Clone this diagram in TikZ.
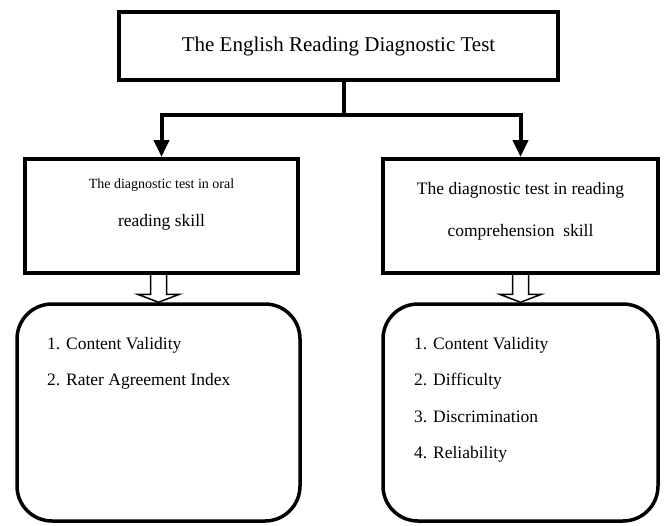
\documentclass[tikz,border=0pt]{standalone}
\usepackage{fontspec}
\setmainfont{Liberation Serif}
\usetikzlibrary{positioning, arrows.meta, calc}

\begin{document}
\begin{tikzpicture}[
  x=1pt, y=-1pt,
  box/.style={draw, line width=4pt, minimum width=#1, minimum height=114pt, inner sep=0pt},
  critbox/.style={draw, line width=3.5pt, rounded corners=35pt, minimum width=#1, minimum height=217pt},
  lbl/.style={font=\fontsize{17.5}{36.5}\selectfont, inner sep=0pt},
  link/.style={line width=4pt},
  hollow/.style={draw, line width=1.5pt, fill=white},
  >={Triangle[length=17pt, width=15pt]}
]
\useasboundingbox (0,0) rectangle (664,525);

% Title box
\node[draw, line width=4pt, minimum width=439pt, minimum height=68pt,
  font=\fontsize{21}{25}\selectfont] (title) at (338.5,46) {The English Reading Diagnostic Test};

% Two test boxes
\node[box=273pt] (lbox) at (161.5,216) {};
\node[font=\fontsize{14}{17}\selectfont, inner sep=0pt] (ltop) at (161.5,185) {The diagnostic test in oral};
\node[lbl] (lbot) at (161.5,222) {reading skill};

\node[box=275pt] (rbox) at (520.5,216) {};
\node[lbl] (rtop) at (520.5,190) {The diagnostic test in reading};
\node[lbl] (rbot) at (520.5,232) {comprehension\ \ skill};

% Branching arrows
\coordinate (fork) at (344,115);
\draw[link] (fork |- title.south) -- (fork);
\draw[link, ->] (fork) -| (lbox.north);
\draw[link, ->] (fork) -| (rbox.north);

% Criteria boxes
\node[critbox=283pt] (lcrit) at (158.5,412.5) {};
\node[lbl, align=left, anchor=north west] (llist) at (47,337)
  {1. Content Validity\\2. Rater Agreement Index};

\node[critbox=275pt] (rcrit) at (520.5,412.5) {};
\node[lbl, align=left, anchor=north west] (rlist) at (414,337)
  {1. Content Validity\\2. Difficulty\\3. Discrimination\\4. Reliability};

% Hollow arrows
\foreach \upper/\lower in {lbox/lcrit, rbox/rcrit}
  \draw[hollow] ($(\upper.south -| \lower.north)+(-8,0)$) |- ($(\lower.north)+(-21,-8)$)
    -- (\lower.north) -- ($(\lower.north)+(21,-8)$) -| ($(\upper.south -| \lower.north)+(8,0)$);

\end{tikzpicture}
\end{document}
